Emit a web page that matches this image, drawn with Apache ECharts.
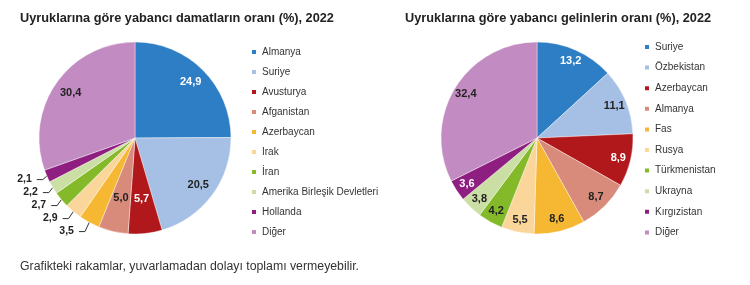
<!DOCTYPE html>
<html>
<head>
<meta charset="utf-8">
<script src="https://cdn.jsdelivr.net/npm/echarts@6/dist/echarts.min.js"></script>
<style>
html,body{margin:0;padding:0;background:#fff;}
#c{width:750px;height:285px;}
</style>
</head>
<body>
<div id="c"></div>
<script>
// ---- data ----
var leftTitle = 'Uyruklarına göre yabancı damatların oranı (%), 2022';
var rightTitle = 'Uyruklarına göre yabancı gelinlerin oranı (%), 2022';
var footnote = 'Grafikteki rakamlar, yuvarlamadan dolayı toplamı vermeyebilir.';
var leftNames = ['Almanya','Suriye','Avusturya','Afganistan','Azerbaycan','Irak','İran','Amerika Birleşik Devletleri','Hollanda','Diğer'];
var leftValues = [24.9,20.5,5.7,5.0,3.5,2.9,2.7,2.2,2.1,30.4];
var rightNames = ['Suriye','Özbekistan','Azerbaycan','Almanya','Fas','Rusya','Türkmenistan','Ukrayna','Kırgızistan','Diğer'];
var rightValues = [13.2,11.1,8.9,8.7,8.6,5.5,4.2,3.8,3.6,32.4];

// ---- styles ----
var palette = ['#2d7ec4','#a5c0e4','#b1181c','#d98b7b','#f6b733','#fbd69b','#84ba2a','#cbdfa5','#8e1f81','#c28bc1'];
var leftLabelColors = ['#fff','#222','#fff','#222','#222','#222','#222','#222','#222','#222'];
var rightLabelColors = ['#fff','#222','#fff','#222','#222','#222','#222','#222','#fff','#222'];
// label placement groups (index lists)
var leftOuter = [4,5,6,7,8], leftRingFar = [0,1,9], leftRingNear = [2,3];

var R = 96;
var fmt = function (p) { return p.value.toFixed(1).replace('.', ','); };
var FONT = 'Liberation Sans, Arial, sans-serif';

function makeData(names, values, labelColors, showIdx, opts) {
  return names.map(function (n, i) {
    var d = { name: n, value: values[i], itemStyle: { color: opts.transparent ? 'rgba(0,0,0,0)' : palette[i] } };
    d.label = { show: showIdx.indexOf(i) >= 0, color: labelColors[i] };
    d.labelLine = { show: showIdx.indexOf(i) >= 0 };
    return d;
  });
}

function visiblePie(center, names, values, labelColors, outerIdx) {
  return {
    type: 'pie', center: center, radius: R, startAngle: 90, clockwise: true,
    avoidLabelOverlap: true,
    itemStyle: { borderColor: '#fff', borderWidth: 0.4 },
    label: { position: 'outside', formatter: fmt, fontFamily: FONT, fontWeight: 'bold', fontSize: 10.5, color: '#222' },
    labelLine: { length: 9, length2: 6, lineStyle: { color: '#333', width: 1 } },
    emphasis: { disabled: true },
    data: makeData(names, values, labelColors.map(function(){return '#222';}), outerIdx, {})
  };
}
function labelRing(center, inner, names, values, labelColors, idx) {
  return {
    type: 'pie', center: center, radius: [inner, R], startAngle: 90, clockwise: true,
    silent: true, emphasis: { disabled: true },
    label: { position: 'inside', formatter: fmt, fontFamily: FONT, fontWeight: 'bold', fontSize: 11 },
    labelLine: { show: false },
    data: makeData(names, values, labelColors, idx, { transparent: true })
  };
}
function legendData(names) {
  return names.map(function (n, i) { return { name: n, itemStyle: { color: palette[i] } }; });
}
var legendCommon = {
  orient: 'vertical', icon: 'rect', itemWidth: 6, itemHeight: 6, selectedMode: false, padding: 0,
  textStyle: { fontFamily: FONT, fontSize: 10, color: '#333', lineHeight: 12 }
};

var chart = echarts.init(document.getElementById('c'));
chart.setOption({
  backgroundColor: '#fff',
  animation: false,
  title: [
    { text: leftTitle, left: 20, top: 12, padding: 0, textStyle: { fontFamily: FONT, fontWeight: 'bold', fontSize: 12.75, color: '#222' } },
    { text: rightTitle, left: 405, top: 12, padding: 0, textStyle: { fontFamily: FONT, fontWeight: 'bold', fontSize: 12.75, color: '#222' } },
    { text: footnote, left: 20, top: 261, padding: 0, textStyle: { fontFamily: FONT, fontWeight: 'normal', fontSize: 12.3, color: '#333' } }
  ],
  legend: [
    Object.assign({}, legendCommon, { left: 250, top: 46, itemGap: 8, data: legendData(leftNames) }),
    Object.assign({}, legendCommon, { left: 643, top: 41, itemGap: 8.6, data: legendData(rightNames) })
  ],
  series: [
    visiblePie([135, 138], leftNames, leftValues, leftLabelColors, leftOuter),
    visiblePie([537, 138], rightNames, rightValues, rightLabelColors, []),
    labelRing([135, 138], R * 0.58, leftNames, leftValues, leftLabelColors, leftRingFar),
    labelRing([135, 138], R * 0.22, leftNames, leftValues, leftLabelColors, leftRingNear),
    labelRing([537, 138], R * 0.68, rightNames, rightValues, rightLabelColors, [0,1,2,3,4,5,6,7,8,9])
  ]
});
</script>
</body>
</html>
